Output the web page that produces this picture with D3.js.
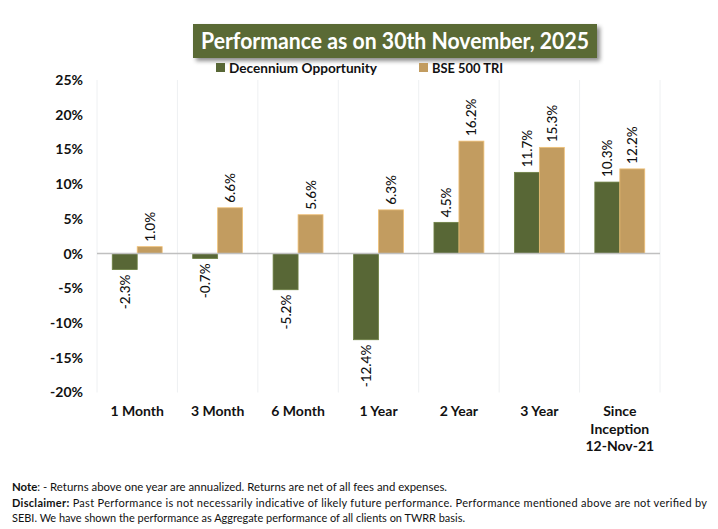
<!DOCTYPE html>
<html>
<head>
<meta charset="utf-8">
<script src="https://cdn.jsdelivr.net/npm/d3@7"></script>
<style>
  body { margin: 0; background: #fff; }
  svg { display: block; font-family: Lato, "Open Sans", sans-serif; }
</style>
</head>
<body>
<div id="chart"></div>
<script>
var categories = ['1 Month', '3 Month', '6 Month', '1 Year', '2 Year', '3 Year', 'Since Inception 12-Nov-21'];
var category_lines = [['1 Month'], ['3 Month'], ['6 Month'], ['1 Year'], ['2 Year'], ['3 Year'], ['Since', 'Inception', '12-Nov-21']];
var series_names = ['Decennium Opportunity', 'BSE 500 TRI'];
var decennium = [-2.3, -0.7, -5.2, -12.4, 4.5, 11.7, 10.3];
var bse500 = [1.0, 6.6, 5.6, 6.3, 16.2, 15.3, 12.2];
var y_ticks = [25, 20, 15, 10, 5, 0, -5, -10, -15, -20];

var colors = ['#586736', '#c29c60'];
var chart_width = 718;
var chart_height = 529;

var svg = d3.select('#chart')
    .append('svg')
    .attr('width', chart_width)
    .attr('height', chart_height);

// title box with a soft shadow
var defs = svg.append('defs');
var shadow = defs.append('filter').attr('id', 'shadow')
    .attr('x', '-10%').attr('y', '-30%').attr('width', '130%').attr('height', '180%');
shadow.append('feDropShadow')
    .attr('dx', 3).attr('dy', 3).attr('stdDeviation', 2)
    .attr('flood-color', '#000').attr('flood-opacity', 0.45);

svg.append('rect')
    .attr('x', 193).attr('y', 24)
    .attr('width', 404).attr('height', 34)
    .attr('fill', '#5a6b34')
    .attr('filter', 'url(#shadow)');
svg.append('text')
    .attr('x', 201).attr('y', 49)
    .attr('font-size', 22.5)
    .attr('font-weight', 'bold')
    .attr('fill', '#fff')
    .attr('textLength', 388)
    .attr('lengthAdjust', 'spacingAndGlyphs')
    .text('Performance as on 30th November, 2025');

// legend
var legend_x = [216, 419];
var legend_len = [148, 71];
series_names.forEach(function(name, i) {
    var g = svg.append('g').attr('transform', 'translate(' + legend_x[i] + ',68)');
    g.append('rect').attr('x', 0).attr('y', -5).attr('width', 9).attr('height', 9).attr('fill', colors[i]);
    g.append('text').attr('x', 13).attr('y', 4.5)
        .attr('font-size', 13.5).attr('font-weight', 'bold').attr('fill', '#111')
        .attr('textLength', legend_len[i])
        .attr('lengthAdjust', 'spacingAndGlyphs')
        .text(name);
});

// scales
var plot_left = 97, plot_right = 660;
var x0 = d3.scaleBand()
    .domain(categories)
    .range([plot_left, plot_right])
    .paddingInner(0);

var x1 = d3.scaleBand()
    .domain(series_names)
    .range([15.25, x0.bandwidth() - 15.25]);

var y = d3.scaleLinear()
    .domain([-20, 25])
    .range([392.5, 80]);

// vertical gridlines between categories
var edges = categories.map(function(c) { return x0(c); }).concat([plot_right]);
svg.selectAll('.vgrid')
    .data(edges)
    .enter()
    .append('line')
    .attr('x1', function(d) { return d; })
    .attr('x2', function(d) { return d; })
    .attr('y1', y(25))
    .attr('y2', y(-20))
    .attr('stroke', '#eef0f2')
    .attr('stroke-width', 1);

// y axis labels
var y_axis = d3.axisLeft(y)
    .tickValues(y_ticks)
    .tickSize(0)
    .tickPadding(0)
    .tickFormat(function(d) { return d + '%'; });
var y_g = svg.append('g')
    .attr('transform', 'translate(83,0)')
    .call(y_axis);
y_g.select('.domain').remove();
y_g.selectAll('text')
    .attr('font-family', 'Lato, sans-serif')
    .attr('font-size', 14)
    .attr('font-weight', 'bold')
    .attr('fill', '#111');

// bars
var rows = categories.map(function(c, i) {
    return [
        { cat: c, name: series_names[0], value: decennium[i], color: colors[0] },
        { cat: c, name: series_names[1], value: bse500[i], color: colors[1] }
    ];
});

var groups = svg.selectAll('.grp')
    .data(rows)
    .enter()
    .append('g')
    .attr('class', 'grp')
    .attr('transform', function(d) { return 'translate(' + x0(d[0].cat) + ',0)'; });

groups.selectAll('rect')
    .data(function(d) { return d; })
    .enter()
    .append('rect')
    .attr('x', function(d) { return x1(d.name); })
    .attr('y', function(d) { return y(Math.max(0, d.value)); })
    .attr('width', x1.bandwidth())
    .attr('height', function(d) { return Math.abs(y(d.value) - y(0)); })
    .attr('fill', function(d) { return d.color; })
    .attr('stroke', function(d) { return d3.color(d.color).brighter(0.6); })
    .attr('stroke-width', 0.8);

// value labels, rotated
groups.selectAll('.lbl')
    .data(function(d) { return d; })
    .enter()
    .append('text')
    .attr('class', 'lbl')
    .attr('transform', function(d) {
        var cx = x1(d.name) + x1.bandwidth() / 2 + 5;
        var yy = d.value >= 0 ? y(d.value) - 5 : y(d.value) + 5;
        return 'translate(' + cx + ',' + yy + ') rotate(-90)';
    })
    .attr('text-anchor', function(d) { return d.value >= 0 ? 'start' : 'end'; })
    .attr('font-size', 13.5)
    .attr('font-weight', 500)
    .attr('fill', '#111')
    .text(function(d) { return d.value.toFixed(1) + '%'; });

// zero line
svg.append('line')
    .attr('x1', plot_left).attr('x2', plot_right)
    .attr('y1', y(0)).attr('y2', y(0))
    .attr('stroke', '#c0c0c0').attr('stroke-width', 1.5);

// category labels
svg.selectAll('.cat')
    .data(categories)
    .enter()
    .append('text')
    .attr('class', 'cat')
    .attr('x', function(d) { return x0(d) + x0.bandwidth() / 2; })
    .attr('y', 416)
    .attr('text-anchor', 'middle')
    .attr('font-size', 14)
    .attr('font-weight', 'bold')
    .attr('fill', '#111')
    .each(function(d, i) {
        var t = d3.select(this);
        category_lines[i].forEach(function(line, j) {
            t.append('tspan')
                .attr('x', x0(d) + x0.bandwidth() / 2)
                .attr('dy', j === 0 ? 0 : 17.5)
                .text(line);
        });
    });

// notes
var note = svg.append('text')
    .attr('x', 12).attr('y', 491)
    .attr('font-size', 11)
    .attr('fill', '#111')
    .attr('textLength', 435)
    .attr('lengthAdjust', 'spacingAndGlyphs');
note.append('tspan').attr('font-weight', 'bold').text('Note');
note.append('tspan').text(': - Returns above one year are annualized. Returns are net of all fees and expenses.');

var disc = svg.append('text')
    .attr('x', 12).attr('y', 507)
    .attr('font-size', 11)
    .attr('fill', '#111')
    .attr('textLength', 695)
    .attr('lengthAdjust', 'spacing');
disc.append('tspan').attr('font-weight', 'bold').text('Disclaimer:');
disc.append('tspan').text(' Past Performance is not necessarily indicative of likely future performance. Performance mentioned above are not verified by');

svg.append('text')
    .attr('x', 12).attr('y', 522)
    .attr('font-size', 11)
    .attr('fill', '#111')
    .attr('textLength', 453)
    .attr('lengthAdjust', 'spacingAndGlyphs')
    .text('SEBI. We have shown the performance as Aggregate performance of all clients on TWRR basis.');
</script>
</body>
</html>
